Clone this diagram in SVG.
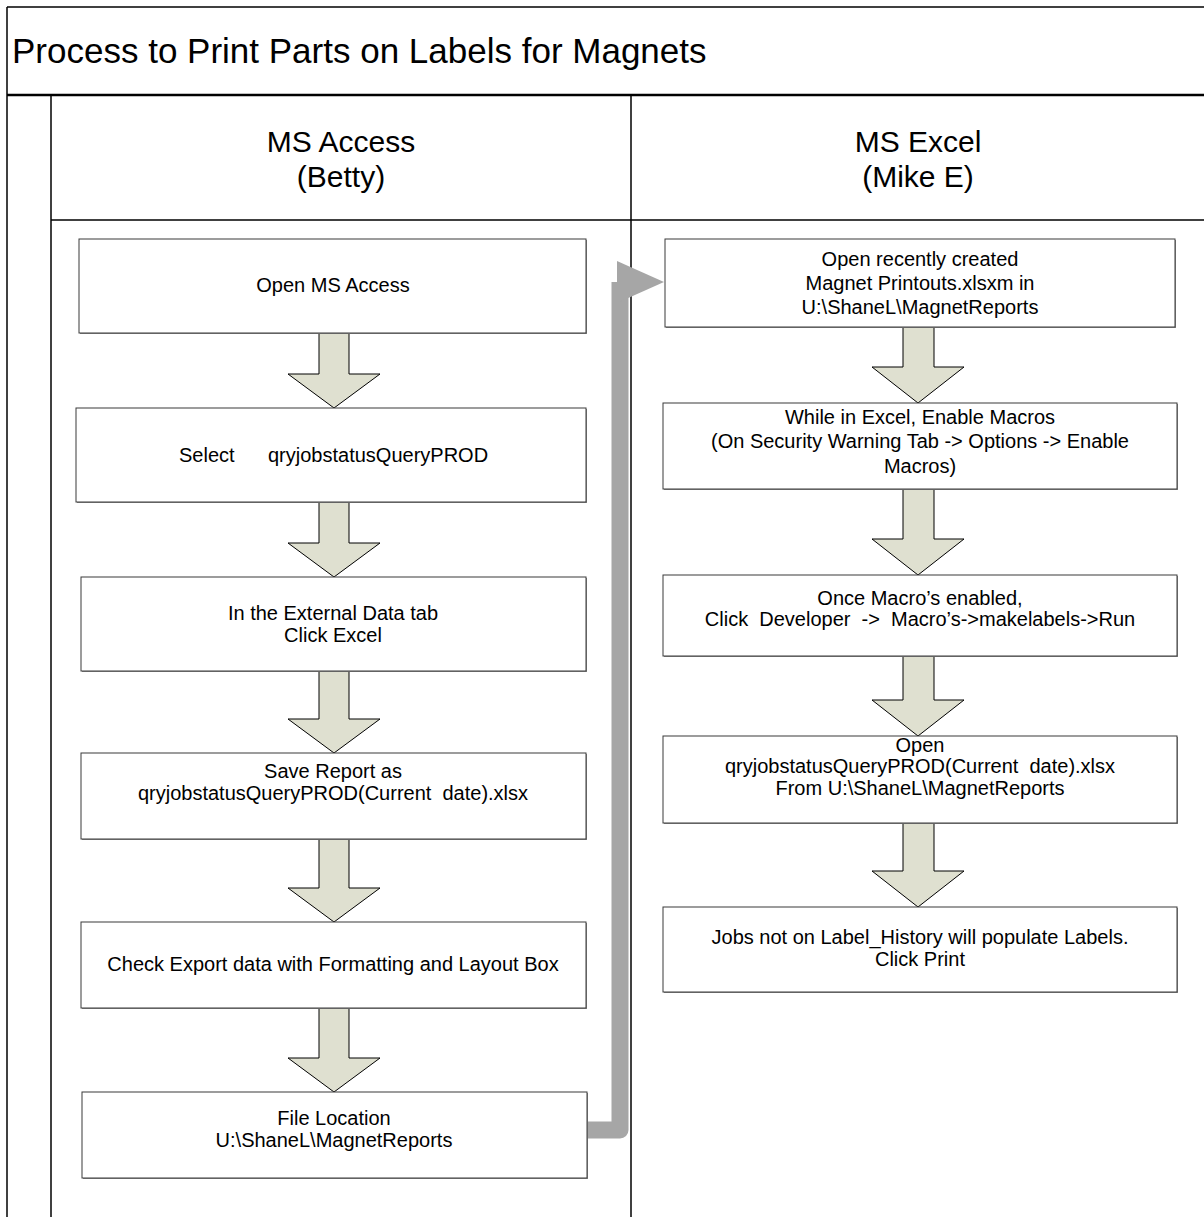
<svg xmlns="http://www.w3.org/2000/svg" width="1204" height="1217" viewBox="0 0 1204 1217">
<style>
.frame{fill:none;stroke:#000;stroke-width:1.5}
.box{fill:#fff;stroke:#3a3a3a;stroke-width:1}
.shadow{fill:#8a8a8a}
.arrow{fill:#dfe0d0;stroke:#000;stroke-width:1}
.t{font-family:"Liberation Sans",Arial,sans-serif;font-size:20px;fill:#000;text-anchor:middle;white-space:pre}
.title{font-family:"Liberation Sans",Arial,sans-serif;font-size:35px;fill:#000}
.lane{font-family:"Liberation Sans",Arial,sans-serif;font-size:30px;fill:#000;text-anchor:middle}
.conn{fill:none;stroke:#a6a6a6;stroke-width:17;stroke-linejoin:round}
</style>
<rect x="0" y="0" width="1204" height="1217" fill="#fff"/>
<g id="pool">
<line class="frame" x1="7" y1="7" x2="1204" y2="7"/>
<line class="frame" x1="7" y1="7" x2="7" y2="1217"/>
<line x1="7" y1="95" x2="1204" y2="95" stroke="#000" stroke-width="2.5"/>
<line class="frame" x1="51" y1="95" x2="51" y2="1217"/>
<line class="frame" x1="51" y1="220" x2="1204" y2="220"/>
<line class="frame" x1="631" y1="95" x2="631" y2="1217"/>
<text class="title" x="12" y="63">Process to Print Parts on Labels for Magnets</text>
</g>
<g id="lane-access">
<text class="lane" x="341" y="152">MS Access</text>
<text class="lane" x="341" y="187">(Betty)</text>
</g>
<g id="lane-excel">
<text class="lane" x="918" y="152">MS Excel</text>
<text class="lane" x="918" y="187">(Mike E)</text>
</g>
<g id="connectors">
<path class="arrow" d="M319,333 V374 H288 L334,408 L380,374 H349 V333 Z"/>
<path class="arrow" d="M319,502 V543 H288 L334,577 L380,543 H349 V502 Z"/>
<path class="arrow" d="M319,671 V719 H288 L334,753 L380,719 H349 V671 Z"/>
<path class="arrow" d="M319,839 V888 H288 L334,922 L380,888 H349 V839 Z"/>
<path class="arrow" d="M319,1008 V1058 H288 L334,1092 L380,1058 H349 V1008 Z"/>
<path class="arrow" d="M903,327 V367 H872 L918,403 L964,367 H934 V327 Z"/>
<path class="arrow" d="M903,489 V539 H872 L918,575 L964,539 H934 V489 Z"/>
<path class="arrow" d="M903,656 V700 H872 L918,736 L964,700 H934 V656 Z"/>
<path class="arrow" d="M903,823 V871 H872 L918,907 L964,871 H934 V823 Z"/>
<path class="conn" d="M587,1130 H620 V282 H618"/>
<polygon points="617,261 664,282 617,303" fill="#a6a6a6"/>
</g>
<g id="n1"><rect class="shadow" x="80" y="240" width="507" height="94"/><rect class="box" x="79" y="239" width="507" height="94"/>
<text class="t" x="333" y="292">Open MS Access</text></g>
<g id="n2"><rect class="shadow" x="77" y="409" width="510" height="94"/><rect class="box" x="76" y="408" width="510" height="94"/>
<text class="t" x="179" y="462" style="text-anchor:start">Select<tspan x="268">qryjobstatusQueryPROD</tspan></text></g>
<g id="n3"><rect class="shadow" x="82" y="578" width="505" height="94"/><rect class="box" x="81" y="577" width="505" height="94"/>
<text class="t" x="333" y="620">In the External Data tab</text>
<text class="t" x="333" y="642">Click Excel</text></g>
<g id="n4"><rect class="shadow" x="82" y="754" width="505" height="86"/><rect class="box" x="81" y="753" width="505" height="86"/>
<text class="t" x="333" y="778">Save Report as</text>
<text class="t" x="333" y="800">qryjobstatusQueryPROD(Current  date).xlsx</text></g>
<g id="n5"><rect class="shadow" x="82" y="923" width="505" height="86"/><rect class="box" x="81" y="922" width="505" height="86"/>
<text class="t" x="333" y="971">Check Export data with Formatting and Layout Box</text></g>
<g id="n6"><rect class="shadow" x="83" y="1093" width="505" height="86"/><rect class="box" x="82" y="1092" width="505" height="86"/>
<text class="t" x="334" y="1125">File Location</text>
<text class="t" x="334" y="1147">U:\ShaneL\MagnetReports</text></g>
<g id="r1"><rect class="shadow" x="666" y="240" width="510" height="88"/><rect class="box" x="665" y="239" width="510" height="88"/>
<text class="t" x="920" y="266">Open recently created</text>
<text class="t" x="920" y="290">Magnet Printouts.xlsxm in</text>
<text class="t" x="920" y="314">U:\ShaneL\MagnetReports</text></g>
<g id="r2"><rect class="shadow" x="664" y="404" width="514" height="86"/><rect class="box" x="663" y="403" width="514" height="86"/>
<text class="t" x="920" y="424">While in Excel, Enable Macros</text>
<text class="t" x="920" y="448">(On Security Warning Tab -&gt; Options -&gt; Enable</text>
<text class="t" x="920" y="473">Macros)</text></g>
<g id="r3"><rect class="shadow" x="664" y="576" width="514" height="81"/><rect class="box" x="663" y="575" width="514" height="81"/>
<text class="t" x="920" y="605">Once Macro’s enabled,</text>
<text class="t" x="920" y="626">Click  Developer  -&gt;  Macro’s-&gt;makelabels-&gt;Run</text></g>
<g id="r4"><rect class="shadow" x="664" y="737" width="514" height="87"/><rect class="box" x="663" y="736" width="514" height="87"/>
<text class="t" x="920" y="752">Open</text>
<text class="t" x="920" y="773">qryjobstatusQueryPROD(Current  date).xlsx</text>
<text class="t" x="920" y="795">From U:\ShaneL\MagnetReports</text></g>
<g id="r5"><rect class="shadow" x="664" y="908" width="514" height="85"/><rect class="box" x="663" y="907" width="514" height="85"/>
<text class="t" x="920" y="944">Jobs not on Label_History will populate Labels.</text>
<text class="t" x="920" y="966">Click Print</text></g>
</svg>
